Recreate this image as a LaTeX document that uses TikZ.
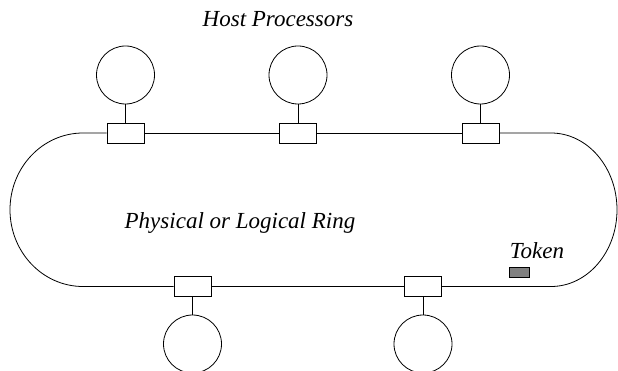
\documentclass[tikz,border=0pt]{standalone}
\usepackage{fontspec}
\setmainfont{Liberation Serif}
\begin{document}
\begin{tikzpicture}[x=1pt,y=1pt,
  host/.style={draw=black,line width=0.8pt,circle,minimum size=58pt,inner sep=0pt},
  iface/.style={draw=black,line width=0.8pt,rectangle,minimum width=37pt,minimum height=20pt,inner sep=0pt,fill=white},
  wire/.style={draw=black,line width=0.8pt},
  lbl/.style={font=\fontsize{23}{27}\selectfont\itshape,inner sep=0pt,anchor=base}]
\useasboundingbox (0,0) rectangle (618,370);
\clip (0,0) rectangle (618,370);
% interfaces on the ring
\node[iface] (b1) at (125.5,237) {};
\node[iface] (b2) at (298,237) {};
\node[iface] (b3) at (480.5,237) {};
\node[iface] (b4) at (192.5,83.5) {};
\node[iface] (b5) at (423,83.5) {};
% hosts
\node[host] (c1) at (125.5,295) {};
\node[host] (c2) at (298,295) {};
\node[host] (c3) at (480.5,295) {};
\node[host] (c4) at (192.5,26) {};
\node[host] (c5) at (423,26) {};
% ring
\coordinate (tl) at (83,237);
\coordinate (tr) at (551,237);
\path[wire] (b1.west) -- (tl) arc[start angle=90,end angle=270,x radius=73,y radius=76.75] -- (b4.west);
\path[wire] (b3.east) -- (tr) arc[start angle=90,end angle=-90,x radius=66,y radius=76.75] -- (b5.east);
\path[wire] (b1.east) -- (b2.west);
\path[wire] (b2.east) -- (b3.west);
\path[wire] (b4.east) -- (b5.west);
% stems
\path[wire] (c1.south) -- (b1.north);
\path[wire] (c2.south) -- (b2.north);
\path[wire] (c3.south) -- (b3.north);
\path[wire] (b4.south) -- (c4.north);
\path[wire] (b5.south) -- (c5.north);
% token
\node[draw=black,line width=0.8pt,fill=black!50,minimum width=20pt,minimum height=10pt,inner sep=0pt] (tok) at (519,98) {};
% labels
\node[lbl] (hp) at (278,343) {Host Processors};
\node[lbl] (ring) at (240,142) {Physical or Logical Ring};
\node[lbl] (tokl) at (537,112) {Token};
\end{tikzpicture}
\end{document}
